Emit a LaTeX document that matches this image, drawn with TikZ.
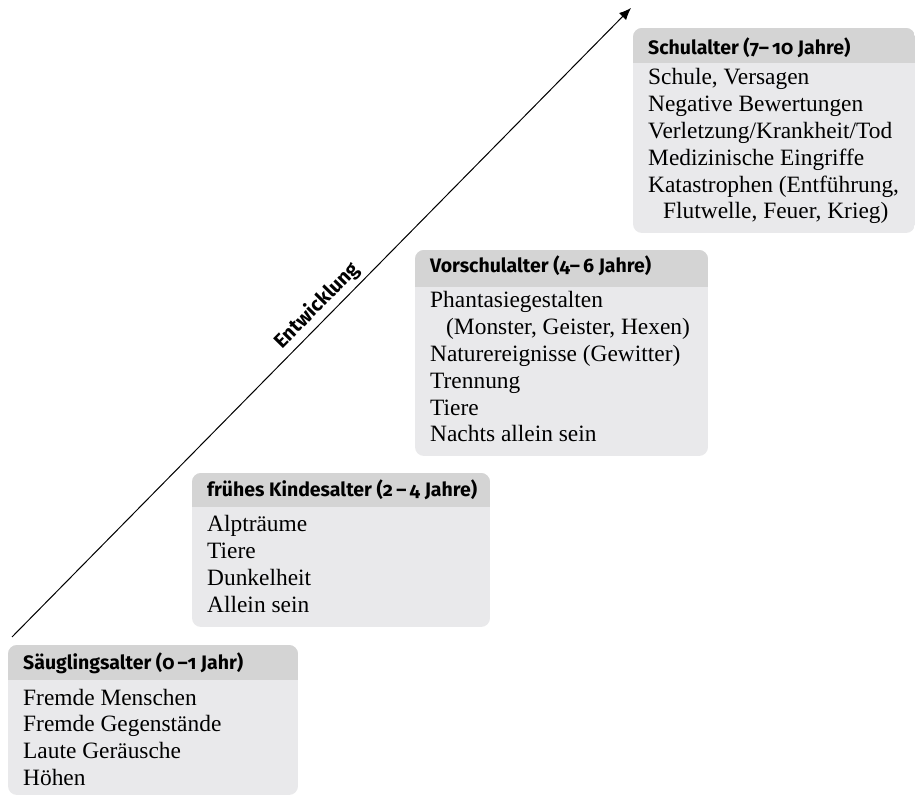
\documentclass[tikz,border=0pt]{standalone}
\usepackage{fontspec}
\setmainfont{Liberation Serif}
\newfontfamily\hdfont{Fira Sans}[Numbers=OldStyle]
\usetikzlibrary{arrows.meta}
\definecolor{headcol}{RGB}{212,212,212}
\definecolor{bodycol}{RGB}{233,233,235}
\tikzset{
  headtext/.style={anchor=base west, inner sep=0pt, font=\hdfont\bfseries\fontsize{19.5}{22}\selectfont},
  bodytext/.style={anchor=base west, inner sep=0pt, font=\fontsize{23.4}{26.8}\selectfont},
  devarrow/.style={line width=1pt, -{Latex[length=12pt,width=10pt]}},
}
\newcommand\stagebox[6]{% name, x1, x2, top, header bottom, bottom
  \begin{scope}
    \clip[rounded corners=9pt] (#2,#6) rectangle (#3,#4);
    \fill[bodycol] (#2,#6) rectangle (#3,#4);
    \fill[headcol] (#2,#5) rectangle (#3,#4);
  \end{scope}
  \coordinate (#1) at (#2,#4);
}
\newcommand\stagelines[4]{% name, x, first baseline, lines
  \foreach \t [count=\i] in {#4}
    \node[bodytext] (#1-\i) at (#2, #3-26.8*\i+26.8) {\t};
}
\begin{document}
\begin{tikzpicture}[x=1pt,y=1pt]
\useasboundingbox (0,0) rectangle (917,797);
% boxes
\stagebox{box1}{8}{298}{152}{117}{2}
\stagebox{box2}{192}{490}{324}{290}{170}
\stagebox{box3}{415}{708}{547}{510}{341}
\stagebox{box4}{633}{915}{769}{734}{564}
% headers
\node[headtext] (h1) at (23,127) {Säuglingsalter (0\,–1 Jahr)};
\node[headtext] (h2) at (207,300) {frühes Kindesalter (2\,–\,4 Jahre)};
\node[headtext] (h3) at (430,524) {Vorschulalter (4–\,6 Jahre)};
\node[headtext] (h4) at (648,742) {Schulalter (7–\,10 Jahre)};
% bodies
\stagelines{b1}{23}{92}{Fremde Menschen, Fremde Gegenstände, Laute Geräusche, Höhen}
\stagelines{b2}{207}{265}{Alpträume, Tiere, Dunkelheit, Allein sein}
\stagelines{b3}{430}{489}{Phantasiegestalten, {\hspace{16pt}(Monster, Geister, Hexen)}, Naturereignisse (Gewitter), Trennung, Tiere, Nachts allein sein}
\stagelines{b4}{648}{712}{{Schule, Versagen}, Negative Bewertungen, Verletzung/Krankheit/Tod, Medizinische Eingriffe, {Katastrophen (Entführung,}, {\hspace{15pt}Flutwelle, Feuer, Krieg)}}
% arrow
\coordinate (astart) at (12,160);
\coordinate (aend) at (631,789);
\draw[devarrow] (astart) -- (aend)
  node[pos=0.51, above, sloped, inner sep=4pt, font=\hdfont\bfseries\fontsize{20}{22}\selectfont] (elabel) {Entwicklung};
\end{tikzpicture}
\end{document}
